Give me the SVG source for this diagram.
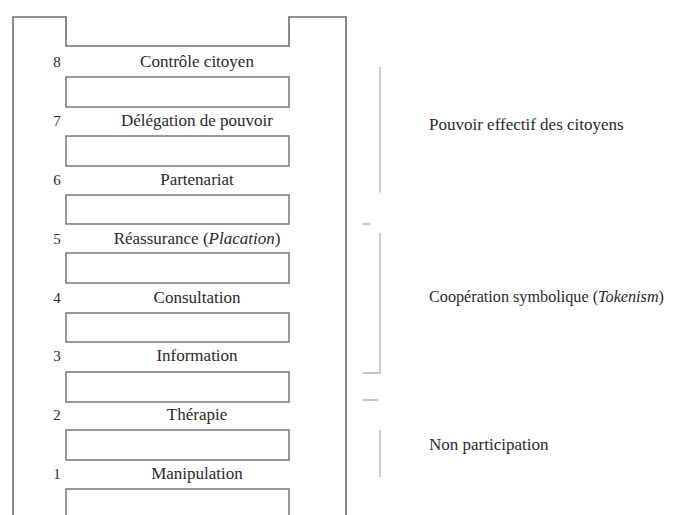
<svg xmlns="http://www.w3.org/2000/svg" width="673" height="515" viewBox="0 0 673 515">
<style>
.frame{fill:none;stroke:#6e6e6e;stroke-width:1.6}
.rung{fill:#fff;stroke:#6e6e6e;stroke-width:1.4}
.lbl{font-size:17px;text-anchor:middle;fill:#2a2a2a}
.num{font-size:15px;text-anchor:middle;fill:#2a2a2a}
.grp{font-size:17px;fill:#2a2a2a}
.br{fill:none;stroke:#b4b4b4;stroke-width:1.3}
</style>
<rect width="673" height="515" fill="#fff"/>
<g id="ladder-frame">
<path class="frame" d="M13,515 V17 H66 V46 H289 V17 H346 V515"/>
</g>
<g font-family="Liberation Serif, serif">
<g id="rung-8"><text class="num" x="57" y="67">8</text><text class="lbl" x="197" y="67">Contrôle citoyen</text><rect class="rung" x="66" y="77" width="223" height="30"/></g>
<g id="rung-7"><text class="num" x="57" y="126">7</text><text class="lbl" x="197" y="126">Délégation de pouvoir</text><rect class="rung" x="66" y="136" width="223" height="30"/></g>
<g id="rung-6"><text class="num" x="57" y="185">6</text><text class="lbl" x="197" y="185">Partenariat</text><rect class="rung" x="66" y="195" width="223" height="29"/></g>
<g id="rung-5"><text class="num" x="57" y="244">5</text><text class="lbl" x="197" y="244">Réassurance (<tspan font-style="italic">Placation</tspan>)</text><rect class="rung" x="66" y="253" width="223" height="30"/></g>
<g id="rung-4"><text class="num" x="57" y="303">4</text><text class="lbl" x="197" y="303">Consultation</text><rect class="rung" x="66" y="313" width="223" height="29"/></g>
<g id="rung-3"><text class="num" x="57" y="361">3</text><text class="lbl" x="197" y="361">Information</text><rect class="rung" x="66" y="372" width="223" height="30"/></g>
<g id="rung-2"><text class="num" x="57" y="420">2</text><text class="lbl" x="197" y="420">Thérapie</text><rect class="rung" x="66" y="430" width="223" height="30"/></g>
<g id="rung-1"><text class="num" x="57" y="479">1</text><text class="lbl" x="197" y="479">Manipulation</text><rect class="rung" x="66" y="489" width="223" height="40"/></g>
<g id="group-pouvoir"><text class="grp" x="429" y="130">Pouvoir effectif des citoyens</text></g>
<g id="group-cooperation"><text class="grp" x="429" y="302" style="font-size:16.2px">Coopération symbolique (<tspan font-style="italic">Tokenism</tspan>)</text></g>
<g id="group-non"><text class="grp" x="429" y="450">Non participation</text></g>
</g>
<g id="connectors">
<path class="br" d="M380,67 V193"/>
<path class="br" d="M363,224 H370 M380,233 V373 H363"/>
<path class="br" d="M363,400 H378 M380,430 V477"/>
</g>
</svg>
